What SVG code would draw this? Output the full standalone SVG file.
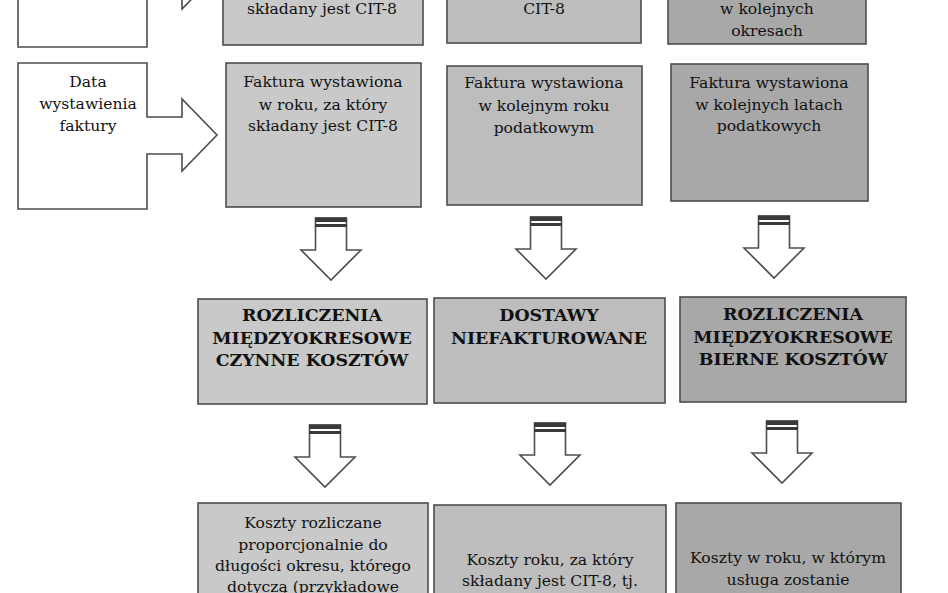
<svg xmlns="http://www.w3.org/2000/svg" width="948" height="593" viewBox="0 0 948 593">
<style>
.bg{fill:#ffffff}
.shape{stroke:#4d4d4d;stroke-width:1.6;stroke-linejoin:miter}
.white{fill:#ffffff}
.g1{fill:#c9c9c9}
.g2{fill:#bdbdbd}
.g3{fill:#a8a8a8}
.t{font-family:"DejaVu Serif","Liberation Serif",serif;font-size:15.6px;fill:#111111;text-anchor:middle}
.b{font-family:"DejaVu Serif","Liberation Serif",serif;font-size:17.4px;font-weight:bold;fill:#111111;text-anchor:middle}
.arrow{fill:#ffffff;stroke:#4d4d4d;stroke-width:1.6}
.stripe{fill:#3a3a3a}
</style>
<defs>
<g id="down">
<path class="arrow" d="M -15.5 0 V 32 H -30 L 0 62 L 30 32 H 15.5 V 0 Z"/>
<rect class="stripe" x="-16" y="-0.5" width="32" height="4.5"/>
<rect class="stripe" x="-16" y="6" width="32" height="3"/>
</g>
</defs>
<rect class="bg" x="0" y="0" width="948" height="593"/>

<g id="connectors">
<use href="#down" transform="translate(331,218)"/>
<use href="#down" transform="translate(546,217)"/>
<use href="#down" transform="translate(774,216)"/>
<use href="#down" transform="translate(325,425)"/>
<use href="#down" transform="translate(550,423)"/>
<use href="#down" transform="translate(782,421)"/>
</g>

<g id="label-top">
<path class="shape white" d="M 18 -99 H 147 V -45 H 182 V -63 L 217 -27 L 182 9 V -8 H 147 V 47 H 18 Z"/>
</g>
<g id="top-1">
<rect class="shape g1" x="223" y="-100" width="200" height="145"/>
<text class="t" x="322" y="14">składany jest CIT-8</text>
</g>
<g id="top-2">
<rect class="shape g2" x="447" y="-100" width="194" height="143"/>
<text class="t" x="544" y="14">CIT-8</text>
</g>
<g id="top-3">
<rect class="shape g3" x="668" y="-100" width="198" height="144"/>
<text class="t" x="767" y="14">w kolejnych</text>
<text class="t" x="767" y="36">okresach</text>
</g>

<g id="label-invoice">
<path class="shape white" d="M 18 63 H 147 V 117 H 182 V 99 L 217 135 L 182 171 V 154 H 147 V 209 H 18 Z"/>
<text class="t" x="88" y="87">Data</text>
<text class="t" x="88" y="109">wystawienia</text>
<text class="t" x="88" y="131">faktury</text>
</g>
<g id="inv-1">
<rect class="shape g1" x="226" y="63" width="195" height="144"/>
<text class="t" x="323" y="87">Faktura wystawiona</text>
<text class="t" x="323" y="110">w roku, za który</text>
<text class="t" x="323" y="131">składany jest CIT-8</text>
</g>
<g id="inv-2">
<rect class="shape g2" x="447" y="66" width="195" height="139"/>
<text class="t" x="544" y="88">Faktura wystawiona</text>
<text class="t" x="544" y="111">w kolejnym roku</text>
<text class="t" x="544" y="133">podatkowym</text>
</g>
<g id="inv-3">
<rect class="shape g3" x="671" y="64" width="197" height="137"/>
<text class="t" x="769" y="88">Faktura wystawiona</text>
<text class="t" x="769" y="110">w kolejnych latach</text>
<text class="t" x="769" y="131">podatkowych</text>
</g>

<g id="cat-1">
<rect class="shape g1" x="198" y="299" width="229" height="105"/>
<text class="b" x="312" y="321">ROZLICZENIA</text>
<text class="b" x="312" y="344">MIĘDZYOKRESOWE</text>
<text class="b" x="312" y="366">CZYNNE KOSZTÓW</text>
</g>
<g id="cat-2">
<rect class="shape g2" x="434" y="298" width="231" height="105"/>
<text class="b" x="549" y="321">DOSTAWY</text>
<text class="b" x="549" y="344">NIEFAKTUROWANE</text>
</g>
<g id="cat-3">
<rect class="shape g3" x="680" y="297" width="226" height="105"/>
<text class="b" x="793" y="320">ROZLICZENIA</text>
<text class="b" x="793" y="343">MIĘDZYOKRESOWE</text>
<text class="b" x="793" y="365">BIERNE KOSZTÓW</text>
</g>

<g id="cost-1">
<rect class="shape g1" x="198" y="503" width="230" height="110"/>
<text class="t" x="313" y="528">Koszty rozliczane</text>
<text class="t" x="313" y="550">proporcjonalnie do</text>
<text class="t" x="313" y="571">długości okresu, którego</text>
<text class="t" x="313" y="592">dotyczą (przykładowe</text>
</g>
<g id="cost-2">
<rect class="shape g2" x="434" y="505" width="232" height="110"/>
<text class="t" x="550" y="565">Koszty roku, za który</text>
<text class="t" x="550" y="586">składany jest CIT-8, tj.</text>
</g>
<g id="cost-3">
<rect class="shape g3" x="676" y="503" width="225" height="110"/>
<text class="t" x="788" y="563">Koszty w roku, w którym</text>
<text class="t" x="788" y="585">usługa zostanie</text>
</g>
</svg>
